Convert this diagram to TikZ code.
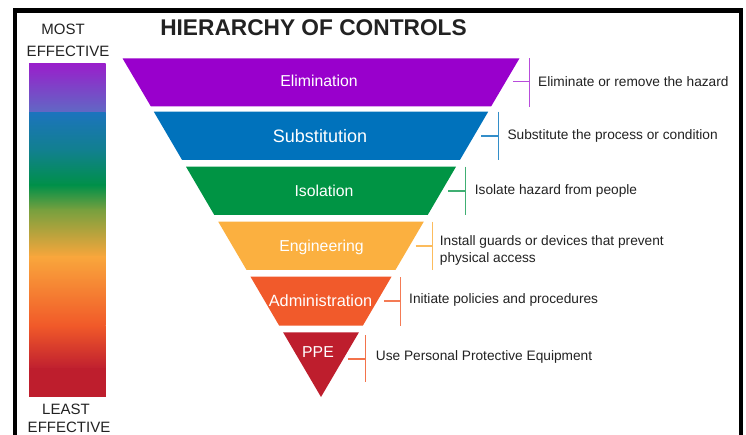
\documentclass[tikz,border=0pt]{standalone}
\usepackage{fontspec}
\setmainfont{Liberation Sans}
\definecolor{cElim}{HTML}{9900CC}
\definecolor{cSub}{HTML}{0072BC}
\definecolor{cIso}{HTML}{009444}
\definecolor{cEng}{HTML}{FBB040}
\definecolor{cAdm}{HTML}{F15A2B}
\definecolor{cPPE}{HTML}{BE1E2D}
\definecolor{txt}{HTML}{222222}
\begin{document}
\begin{tikzpicture}[x=1pt,y=-1pt,
  lbl/.style={text=white,font=\fontsize{15.8}{18}\selectfont,inner sep=0pt},
  desc/.style={anchor=west,text=txt,font=\fontsize{13.7}{17.6}\selectfont,align=left,inner sep=0pt},
  side/.style={text=txt,font=\fontsize{15}{17}\selectfont,inner sep=0pt},
  brk/.style={line width=1.3pt},
  frame/.style={line width=4.5pt,black}]
\useasboundingbox (0,0) rectangle (746,435);
\fill[white] (0,0) rectangle (746,435);
% frame (open at bottom)
\coordinate (fl) at (15.2,440);
\coordinate (ftl) at (15.2,10.5);
\coordinate (ftr) at (741,10.5);
\coordinate (fr) at (741,440);
\draw[frame] (fl) -- (ftl) -- (ftr) -- (fr);
% title
\node[font=\bfseries\fontsize{22.7}{26}\selectfont,text=txt,inner sep=0pt] (title) at (313.5,28) {HIERARCHY OF CONTROLS};
% side labels
\node[side] (most) at (63,29) {MOST};
\node[side] (eff1) at (68,51.5) {EFFECTIVE};
\node[side] (least) at (66,409) {LEAST};
\node[side] (eff2) at (69,427.5) {EFFECTIVE};
% gradient bar
\shade[top color={rgb,255:red,154;green,30;blue,203},bottom color={rgb,255:red,95;green,106;blue,196}] (29,63.3) rectangle (105.7,113.2);
\shade[top color={rgb,255:red,28;green,116;blue,188},bottom color={rgb,255:red,17;green,128;blue,143}] (29,113) rectangle (105.7,150.2);
\shade[top color={rgb,255:red,17;green,128;blue,143},bottom color={rgb,255:red,0;green,144;blue,73}] (29,150) rectangle (105.7,185.2);
\shade[top color={rgb,255:red,0;green,144;blue,73},bottom color={rgb,255:red,120;green,160;blue,62}] (29,185) rectangle (105.7,210.2);
\shade[top color={rgb,255:red,120;green,160;blue,62},bottom color={rgb,255:red,249;green,166;blue,60}] (29,210) rectangle (105.7,257.2);
\shade[top color={rgb,255:red,249;green,166;blue,60},bottom color={rgb,255:red,241;green,90;blue,41}] (29,257) rectangle (105.7,325.2);
\shade[top color={rgb,255:red,241;green,90;blue,41},bottom color={rgb,255:red,192;green,32;blue,47}] (29,325) rectangle (105.7,368.2);
\fill[cPPE] (29,368) rectangle (105.7,397);
% bands
\fill[cElim] (122.5,58.3) -- (519.5,58.3) -- (491.2,106.3) -- (150.8,106.3) -- cycle;
\fill[cSub] (153.8,111.7) -- (488.2,111.7) -- (459.9,160) -- (182.1,160) -- cycle;
\fill[cIso] (186,166.7) -- (456,166.7) -- (427.7,215) -- (214.3,215) -- cycle;
\fill[cEng] (218.25,221.7) -- (423.75,221.7) -- (395.44,270) -- (246.56,270) -- cycle;
\fill[cAdm] (250.48,276.7) -- (391.52,276.7) -- (362.8,325.7) -- (279.2,325.7) -- cycle;
\fill[cPPE] (283.06,332.3) -- (358.94,332.3) -- (321,397) -- cycle;
% band labels
\node[lbl] (lElim) at (319,81) {Elimination};
\node[lbl,font=\fontsize{18}{20}\selectfont] (lSub) at (320,136.5) {Substitution};
\node[lbl] (lIso) at (324,191) {Isolation};
\node[lbl] (lEng) at (321.5,247) {Engineering};
\node[lbl,font=\fontsize{16.3}{18}\selectfont] (lAdm) at (320.5,301) {Administration};
\node[lbl] (lPPE) at (318,352) {PPE};
% brackets
\coordinate (t1) at (529.7,58.3); \coordinate (b1) at (529.7,106.7);
\coordinate (m1) at (529.7,81.7); \coordinate (h1) at (513,81.7);
\coordinate (t2) at (498.7,111.7); \coordinate (b2) at (498.7,160);
\coordinate (m2) at (498.7,136); \coordinate (h2) at (481.3,136);
\coordinate (t3) at (465.3,166.7); \coordinate (b3) at (465.3,215);
\coordinate (m3) at (465.3,191); \coordinate (h3) at (448,191);
\coordinate (t4) at (432.3,221.7); \coordinate (b4) at (432.3,270);
\coordinate (m4) at (432.3,246); \coordinate (h4) at (415.7,246);
\coordinate (t5) at (400.7,277.3); \coordinate (b5) at (400.7,325.7);
\coordinate (m5) at (400.7,301); \coordinate (h5) at (384,301);
\coordinate (t6) at (365.7,335); \coordinate (b6) at (365.7,382.3);
\coordinate (m6) at (365.7,359); \coordinate (h6) at (348.3,359);
\draw[brk,cElim!70] (t1) -- (b1); \draw[brk,cElim!70] (h1) -- (m1);
\draw[brk,cSub!80] (t2) -- (b2); \draw[brk,cSub!80] (h2) -- (m2);
\draw[brk,cIso!75] (t3) -- (b3); \draw[brk,cIso!75] (h3) -- (m3);
\draw[brk,cEng!85] (t4) -- (b4); \draw[brk,cEng!85] (h4) -- (m4);
\draw[brk,cAdm!80] (t5) -- (b5); \draw[brk,cAdm!80] (h5) -- (m5);
\draw[brk,cAdm!85] (t6) -- (b6); \draw[brk,cAdm!85] (h6) -- (m6);
% descriptions
\node[desc] (d1) at (538,82) {Eliminate or remove the hazard};
\node[desc] (d2) at (507.3,136) {Substitute the process or condition};
\node[desc] (d3) at (474.7,191) {Isolate hazard from people};
\node[desc] (d4) at (439.7,250.5) {Install guards or devices that prevent\\physical access};
\node[desc] (d5) at (409,300) {Initiate policies and procedures};
\node[desc] (d6) at (375.7,357) {Use Personal Protective Equipment};
\end{tikzpicture}
\end{document}
